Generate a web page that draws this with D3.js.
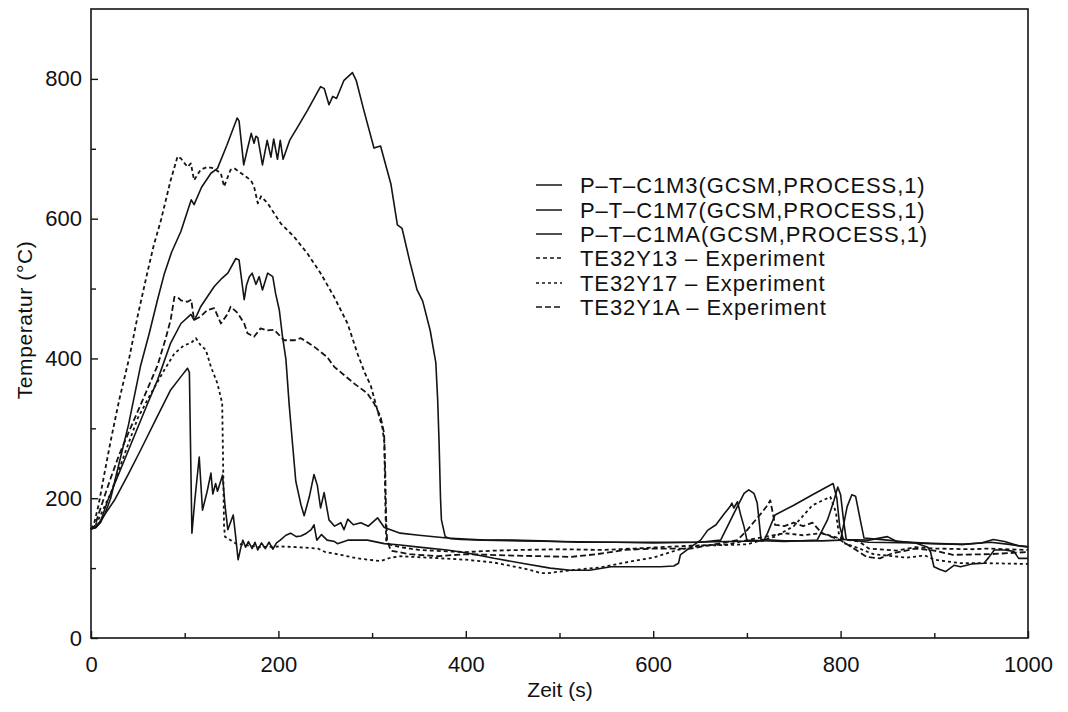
<!DOCTYPE html>
<html>
<head>
<meta charset="utf-8">
<script src="https://cdn.jsdelivr.net/npm/d3@7"></script>
<style>
  html, body { margin: 0; padding: 0; background: #fff; }
  svg { display: block; font-family: "Liberation Sans", Arial, Helvetica, sans-serif; }
</style>
</head>
<body>
<svg id="chart" width="1068" height="712"></svg>
<script>
// Temperature histories: time (s), temperature (°C)
const c1m3 = [[0,156],[5,158],[10,165],[15,178],[21,200],[30,250],[40,305],[53,390],[62,435],[71,484],[78,520],[86,552],[96,582],[104,615],[107,627],[110,620],[118,645],[128,665],[135,672],[145,705],[156,744],[158,740],[163,677],[167,700],[171,722],[174,708],[176,718],[178,716],[183,677],[188,712],[192,688],[195,714],[199,685],[202,712],[205,685],[212,712],[220,730],[231,755],[245,789],[249,786],[254,763],[258,775],[262,772],[270,798],[279,809],[283,798],[291,756],[302,701],[309,704],[320,650],[327,591],[332,586],[340,540],[348,498],[354,482],[362,440],[368,394],[370,340],[371.5,279],[373,200],[374,169],[378,145],[384,142],[395,141],[420,140],[450,140],[480,139],[520,137],[560,137],[600,137],[640,137],[680,138],[718,139],[722,150],[730,176],[750,190],[770,205],[792,221],[796,200],[799,160],[803,141],[830,140],[850,145],[860,138],[890,136],[930,134],[950,136],[963,141],[975,138],[990,132],[1000,131]];

const c1m7 = [[0,156],[5,158],[10,166],[18,197],[30,236],[45,285],[60,334],[71,369],[85,422],[96,450],[106.7,463],[110,455],[113,462],[117,474],[124,488],[131.5,503],[140,515],[146,522],[154.6,543],[158,541],[163.5,484],[166,505],[169,517],[172,522],[176,506],[179.5,517],[183,498],[188.5,522],[194,517],[197,493],[201,469],[204.5,430],[208,399],[211.5,334],[215,279],[218.6,224],[224,191],[227.5,175],[233,202],[238,234],[241.6,218],[245,186],[248.8,208],[254,169],[260,160],[266.6,165],[270,155],[274,170],[280,162],[288,165],[296,160],[305.8,172],[313,158],[330,150],[350,147],[380,143],[420,140],[460,139],[500,138],[560,137],[600,136],[650,137],[672,140],[686,178],[697,207],[702,212],[707.5,207],[711,193],[713,168],[715,141],[740,139],[780,139],[800,140],[807,188],[812,205],[816,203],[821,169],[825,143],[850,140],[880,136],[895,135],[930,134],[960,137],[980,134],[1000,130]];

const c1ma = [[0,156],[5,158],[10.7,169],[25,197],[40,235],[53,269],[70,315],[85,355],[96,374],[103,386],[105,380],[106.5,250],[107.7,150],[111,200],[115.5,259],[119,183],[124,210],[128,236],[130,206],[133,221],[135,210],[140.4,233],[143,190],[146,155],[151.8,176],[154,150],[157,112],[160,130],[162,140],[165,130],[168,138],[172,128],[175,137],[178,126],[182,136],[186,128],[190,137],[194,127],[198,136],[202,140],[208,147],[213,150],[219,145],[224,146],[230,150],[235,155],[238,162],[241,140],[246,148],[252,140],[260,138],[263,135],[274,140],[295,140],[313,135],[330,133],[350,130],[380,126],[400,122],[430,114],[460,107],[490,100],[512,97],[532,97],[555,102],[580,102],[608,102],[622,103],[627,107],[629,119],[640,130],[650.6,140],[658,154],[667,162],[676,178],[682,188],[684,193],[686,186],[690,195],[693,178],[697,159],[700,140],[740,138],[775,140],[786,169],[793,197],[797,216],[800,205],[803,170],[806,141],[830,137],[880,136],[893,130],[896,123],[899.6,102],[906,98],[912,95],[921,104],[928,102],[940,106],[953,107],[958,115],[964,126],[975,126],[985,124],[990,114],[1000,114]];

const y13 = [[0,156],[3,162],[8,190],[15,240],[21,282],[30,340],[41,402],[50,462],[60,522],[67,562],[74.7,598],[85,655],[92.4,689],[96,686],[103,674],[106.6,679],[110,655],[117,670],[124,674],[131,672],[138.6,665],[142,646],[149,670],[153,672],[163.5,662],[170.6,655],[174,646],[178,622],[181.5,632],[188.5,622],[202.6,593],[216.8,574],[231,550],[245,522],[259.5,488],[273.8,450],[284.4,407],[292,380],[298.6,361],[307.5,317],[311,301],[313,280],[314,200],[315,140],[318,134],[330,130],[350,126],[380,124],[400,123],[430,125],[460,126],[500,127],[547,126],[580,128],[608,130],[640,132],[680,134],[700,140],[720,145],[740,150],[760,147],[780,150],[800,142],[820,138],[830,128],[860,125],[880,130],[900,128],[940,127],[956,128],[1000,126]];

const y17 = [[0,156],[5,162],[10,175],[21,207],[35,260],[50,315],[64,350],[78,383],[89,407],[99.5,419],[106.7,422],[112,429],[117,419],[122.6,412],[128,388],[135,364],[140,336],[141,250],[142,160],[143,145],[149,140],[155,135],[165,133],[180,130],[202.6,131],[220,130],[242,128],[250,123],[266.6,119],[284,114],[309,110],[320,115],[330,117],[360,115],[400,112],[430,108],[460,100],[469,97],[480,93],[487,92.6],[500,95],[520,98],[544,101],[570,108],[600,115],[626,126],[650,132],[700,134],[730,145],[750,160],[760,175],[770,190],[789,202],[795,180],[798,150],[805,135],[820,128],[835,120],[870,115],[890,118],[900,112],[928,107],[956,107],[1000,106]];

const y1a = [[0,156],[4,160],[10,185],[20,225],[30,262],[42,300],[55,340],[71,390],[80,430],[85,455],[89,488],[92.4,488],[96,483],[103,481],[107,484],[110,455],[117,460],[124,469],[131.5,472],[138.6,450],[146,464],[149,474],[156.5,465],[163.5,450],[167,436],[174,431],[181,443],[188,440],[195.5,441],[206,426],[216.8,426],[224,429],[238,417],[252,402],[259.6,388],[281,364],[295,350],[302,336],[309,317],[312.8,293],[314,240],[315,170],[316,140],[320,125],[340,120],[370,117],[400,120],[450,118],[512,116],[540,120],[570,126],[600,128],[640,128],[690,140],[700,154],[715,178],[722,190],[725,197],[727,183],[730,162],[740,160],[750,165],[760,160],[770,165],[780,150],[800,140],[828,116],[842,114],[855,121],[880,128],[900,125],[920,119],[960,120],[1000,123]];

const seriesNames = ["P–T–C1M3(GCSM,PROCESS,1)", "P–T–C1M7(GCSM,PROCESS,1)", "P–T–C1MA(GCSM,PROCESS,1)",
                     "TE32Y13 – Experiment", "TE32Y17 – Experiment", "TE32Y1A – Experiment"];
const seriesData = [c1m3, c1m7, c1ma, y13, y17, y1a];
const seriesDash = [null, null, null, "4,3", "3,3", "6,3"];

const xMajor = [0, 200, 400, 600, 800, 1000];
const xMinor = [100, 300, 500, 700, 900];
const yMajor = [0, 200, 400, 600, 800];
const yMinor = [100, 300, 500, 700];
const xTitle = "Zeit (s)";
const yTitle = "Temperatur (°C)";

const svg = d3.select("#chart");
const plotLeft = 91, plotRight = 1028, plotTop = 9, plotBottom = 638;
const x = d3.scaleLinear().domain([0, 1000]).range([plotLeft, plotRight]);
const y = d3.scaleLinear().domain([0, 900]).range([plotBottom, plotTop]);
const ink = "#141414";

// data lines
const line = d3.line().x(d => x(d[0])).y(d => y(d[1]));
const plot = svg.append("g");
seriesData.forEach((s, i) => {
  plot.append("path")
    .attr("d", line(s))
    .attr("fill", "none")
    .attr("stroke", ink)
    .attr("stroke-width", i < 3 ? 1.6 : 1.8)
    .attr("stroke-linejoin", "round")
    .attr("stroke-dasharray", seriesDash[i]);
});

// frame
svg.append("rect")
  .attr("x", plotLeft).attr("y", plotTop)
  .attr("width", plotRight - plotLeft).attr("height", plotBottom - plotTop)
  .attr("fill", "none").attr("stroke", ink).attr("stroke-width", 1.6);

// axes with inward ticks
function styleAxis(g) {
  g.select(".domain").remove();
  g.selectAll(".tick line").attr("stroke", ink).attr("stroke-width", 1.4);
  g.selectAll(".tick text").attr("fill", "#111").style("font-size", "22px");
}
svg.append("g").attr("transform", `translate(0,${plotBottom})`)
  .call(d3.axisBottom(x).tickValues(xMajor).tickSize(-7).tickPadding(18).tickFormat(d3.format("d")))
  .call(styleAxis);
svg.append("g").attr("transform", `translate(0,${plotBottom})`)
  .call(d3.axisBottom(x).tickValues(xMinor).tickSize(-5).tickFormat(""))
  .call(styleAxis);
svg.append("g").attr("transform", `translate(${plotLeft},0)`)
  .call(d3.axisLeft(y).tickValues(yMajor).tickSize(-7).tickPadding(9).tickFormat(d3.format("d")))
  .call(styleAxis);
svg.append("g").attr("transform", `translate(${plotLeft},0)`)
  .call(d3.axisLeft(y).tickValues(yMinor).tickSize(-5).tickFormat(""))
  .call(styleAxis);

// axis titles
svg.append("text")
  .attr("x", 560).attr("y", 697)
  .attr("text-anchor", "middle")
  .style("font-size", "21px").attr("fill", "#111")
  .text(xTitle);
svg.append("text")
  .attr("transform", `translate(32,320) rotate(-90)`)
  .attr("text-anchor", "middle")
  .style("font-size", "21px").style("letter-spacing", "0.6px").attr("fill", "#111")
  .text(yTitle);

// legend
const legend = svg.append("g");
const rowY = [185, 210, 234, 258, 283, 307];
seriesNames.forEach((name, i) => {
  legend.append("line")
    .attr("x1", 536).attr("x2", 562)
    .attr("y1", rowY[i]).attr("y2", rowY[i])
    .attr("stroke", ink).attr("stroke-width", 1.5)
    .attr("stroke-dasharray", seriesDash[i]);
  legend.append("text")
    .attr("x", 580).attr("y", rowY[i] + 8)
    .style("font-size", "22px").style("letter-spacing", "0.9px").attr("fill", "#111")
    .text(name);
});
</script>
</body>
</html>
